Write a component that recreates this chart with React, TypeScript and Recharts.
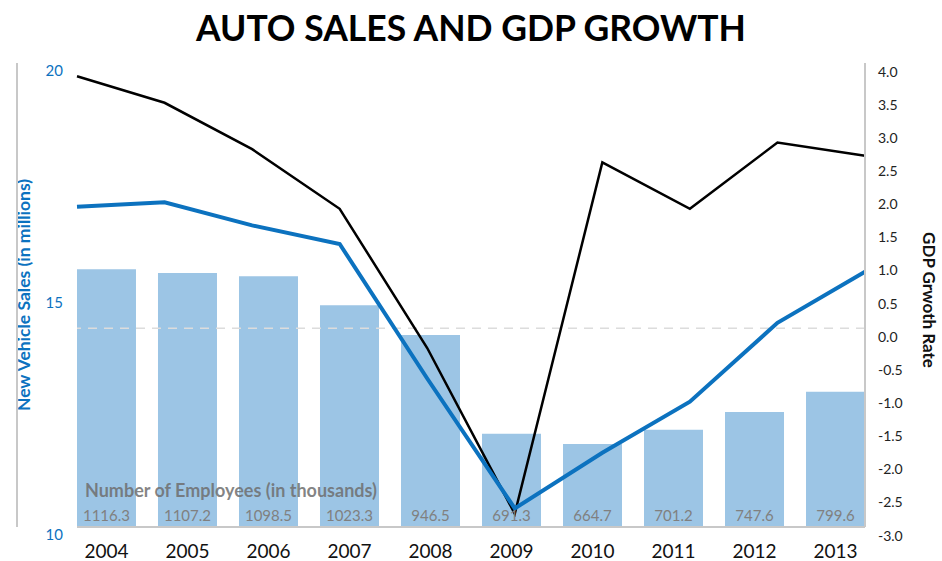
import { ComposedChart, Bar, Line, XAxis, YAxis, ReferenceLine, LabelList } from 'recharts';

const years = ['2004', '2005', '2006', '2007', '2008', '2009', '2010', '2011', '2012', '2013'];
const vehicleSales = [16.9, 17.0, 16.5, 16.1, 13.2, 10.4, 11.6, 12.7, 14.4, 15.5];
const gdpGrowth = [3.8, 3.4, 2.7, 1.8, -0.3, -2.8, 2.5, 1.8, 2.8, 2.6];
const employees = [1116.3, 1107.2, 1098.5, 1023.3, 946.5, 691.3, 664.7, 701.2, 747.6, 799.6];
const salesTicks = [10, 15, 20];
const gdpTicks = [-3, -2.5, -2, -1.5, -1, -0.5, 0, 0.5, 1, 1.5, 2, 2.5, 3, 3.5, 4];

const data = years.map((y, i) => ({
  idx: i,
  year: y,
  sales: vehicleSales[i],
  gdp: gdpGrowth[i],
  emp: employees[i],
}));

const FONT = "Lato, 'Open Sans', sans-serif";
const BLUE = '#0c72bf';

const LeftTick = ({ y, payload }: any) => (
  <text x={63} y={y + 9} textAnchor="end" dominantBaseline="middle" fill={BLUE} fontSize={15} fontFamily={FONT}>
    {payload.value}
  </text>
);

const RightTick = ({ y, payload }: any) => (
  <text x={878} y={y + 10} textAnchor="start" dominantBaseline="middle" fill="#222" fontSize={14} fontFamily={FONT}>
    {Number(payload.value).toFixed(1)}
  </text>
);

const YearTick = ({ x, y, payload }: any) => (
  <text x={x} y={y + 18} textAnchor="middle" dominantBaseline="middle" fill="#111" fontSize={19} fontFamily={FONT}>
    {years[payload.value]}
  </text>
);

const EmpLabel = (props: any) => {
  const { x, y, width, height, value } = props;
  return (
    <text x={x + width / 2} y={y + height - 10} textAnchor="middle" dominantBaseline="middle" fill="#808080" fontSize={15} fontFamily={FONT}>
      {value}
    </text>
  );
};

export default function App() {
  return (
    <div style={{ position: 'absolute', left: 0, top: 0, width: 942, height: 561, background: '#fff' }}>
      <div
        style={{
          position: 'absolute', left: 0, top: 6, width: 942, textAlign: 'center',
          fontFamily: FONT, fontWeight: 700, fontSize: 35.5, color: '#000', lineHeight: '44px',
        }}
      >
        AUTO SALES AND GDP GROWTH
      </div>
      <div
        style={{
          position: 'absolute', left: 23, top: 295, transform: 'translate(-50%, -50%) rotate(-90deg)',
          whiteSpace: 'nowrap', fontFamily: FONT, fontWeight: 700, fontSize: 17.5, color: BLUE,
        }}
      >
        New Vehicle Sales (in millions)
      </div>
      <div
        style={{
          position: 'absolute', left: 929, top: 300, transform: 'translate(-50%, -50%) rotate(90deg)',
          whiteSpace: 'nowrap', fontFamily: FONT, fontWeight: 700, fontSize: 17, color: '#111',
        }}
      >
        GDP Grwoth Rate
      </div>
      <ComposedChart width={942} height={561} data={data} margin={{ top: 63, right: 0, bottom: 0, left: 0 }}>
        <XAxis
          xAxisId="bar"
          dataKey="idx"
          type="number"
          domain={[-0.364, 9.364]}
          ticks={[0, 1, 2, 3, 4, 5, 6, 7, 8, 9]}
          tick={<YearTick />}
          tickLine={false}
          axisLine={{ stroke: '#c8c8c8', strokeWidth: 2 }}
          height={34}
          allowDataOverflow
        />
        <XAxis xAxisId="line" dataKey="idx" type="number" domain={[0, 9]} hide />
        <YAxis
          yAxisId="sales"
          orientation="left"
          domain={[10, 20]}
          ticks={salesTicks}
          tick={<LeftTick />}
          tickLine={false}
          axisLine={{ stroke: '#c8c8c8', strokeWidth: 2 }}
          width={77}
        />
        <YAxis
          yAxisId="gdp"
          orientation="right"
          domain={[-3, 4]}
          ticks={gdpTicks}
          tick={<RightTick />}
          tickLine={false}
          axisLine={{ stroke: '#c8c8c8', strokeWidth: 2 }}
          width={77}
        />
        <YAxis yAxisId="emp" domain={[450, 1650]} hide />
        <Bar xAxisId="bar" yAxisId="emp" dataKey="emp" fill="#9cc5e5" barSize={59} isAnimationActive={false}>
          <LabelList dataKey="emp" content={<EmpLabel />} />
        </Bar>
        <ReferenceLine xAxisId="line" yAxisId="gdp" y={0} stroke="#dcdcdc" strokeWidth={1.5} strokeDasharray="9 7" />
        <Line xAxisId="line" yAxisId="gdp" dataKey="gdp" stroke="#000" strokeWidth={2.5} dot={false} type="linear" isAnimationActive={false} />
        <Line xAxisId="line" yAxisId="sales" dataKey="sales" stroke={BLUE} strokeWidth={4} dot={false} type="linear" isAnimationActive={false} />
      </ComposedChart>
      <div
        style={{
          position: 'absolute', left: 85, top: 478, whiteSpace: 'nowrap',
          fontFamily: FONT, fontWeight: 700, fontSize: 18, color: 'rgba(110,110,110,0.85)', lineHeight: '24px',
        }}
      >
        Number of Employees (in thousands)
      </div>
    </div>
  );
}
